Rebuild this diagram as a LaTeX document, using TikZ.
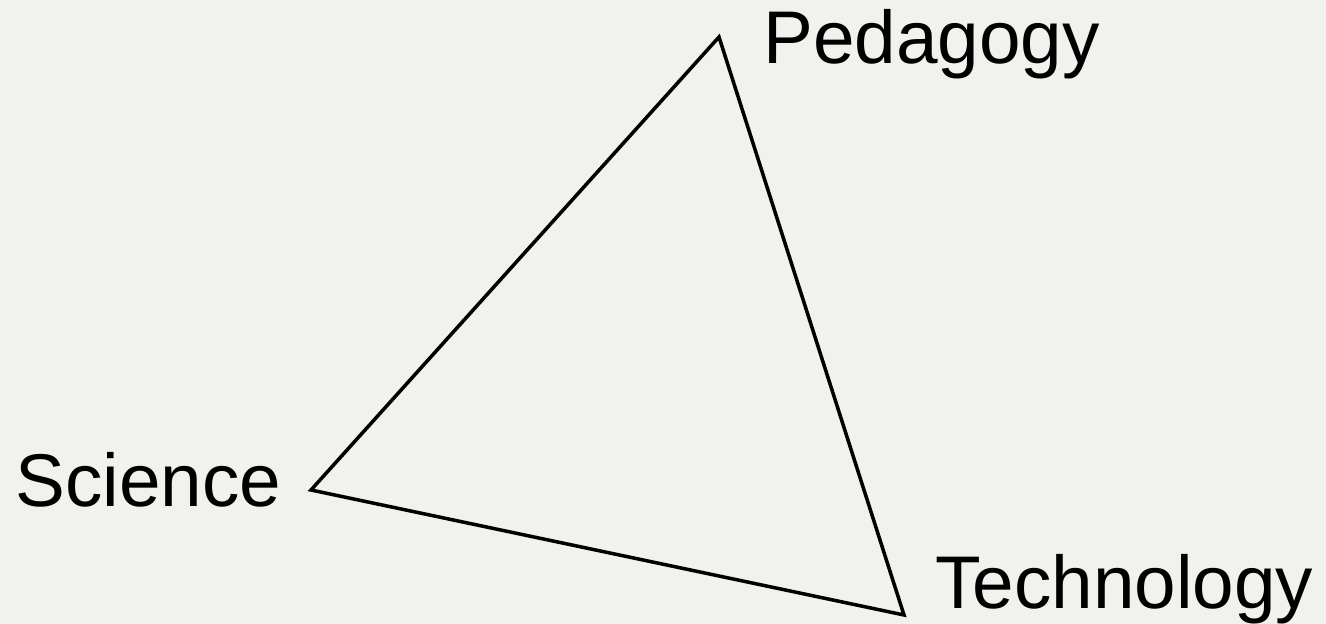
\documentclass[tikz,border=0pt]{standalone}
\usepackage{fontspec}
\setmainfont{Liberation Sans}
\usetikzlibrary{positioning}
\definecolor{paper}{HTML}{F1F1ED}
\tikzset{
  cornerlabel/.style={inner sep=0pt, anchor=base west,
    font=\fontsize{42.5}{51}\selectfont},
  edgeline/.style={draw=black, line width=2pt, line join=miter},
}

\begin{document}
\begin{tikzpicture}[x=0.02cm, y=-0.02cm]
  % background and bounding box
  \fill[paper] (0,0) rectangle (1326,624);
  \useasboundingbox (0,0) rectangle (1326,624);
  % corners of the triangle
  \coordinate (ped) at (719,37);
  \coordinate (sci) at (311,490);
  \coordinate (tech) at (904,615);
  \draw[edgeline] (ped) -- (sci) -- (tech) -- cycle;
  % labels
  \node[cornerlabel] (pedlabel) at (763,64) {Pedagogy};
  \node[cornerlabel] (scilabel) at (15,507) {Science};
  \node[cornerlabel] (techlabel) at (935,609) {Technology};
\end{tikzpicture}
\end{document}
